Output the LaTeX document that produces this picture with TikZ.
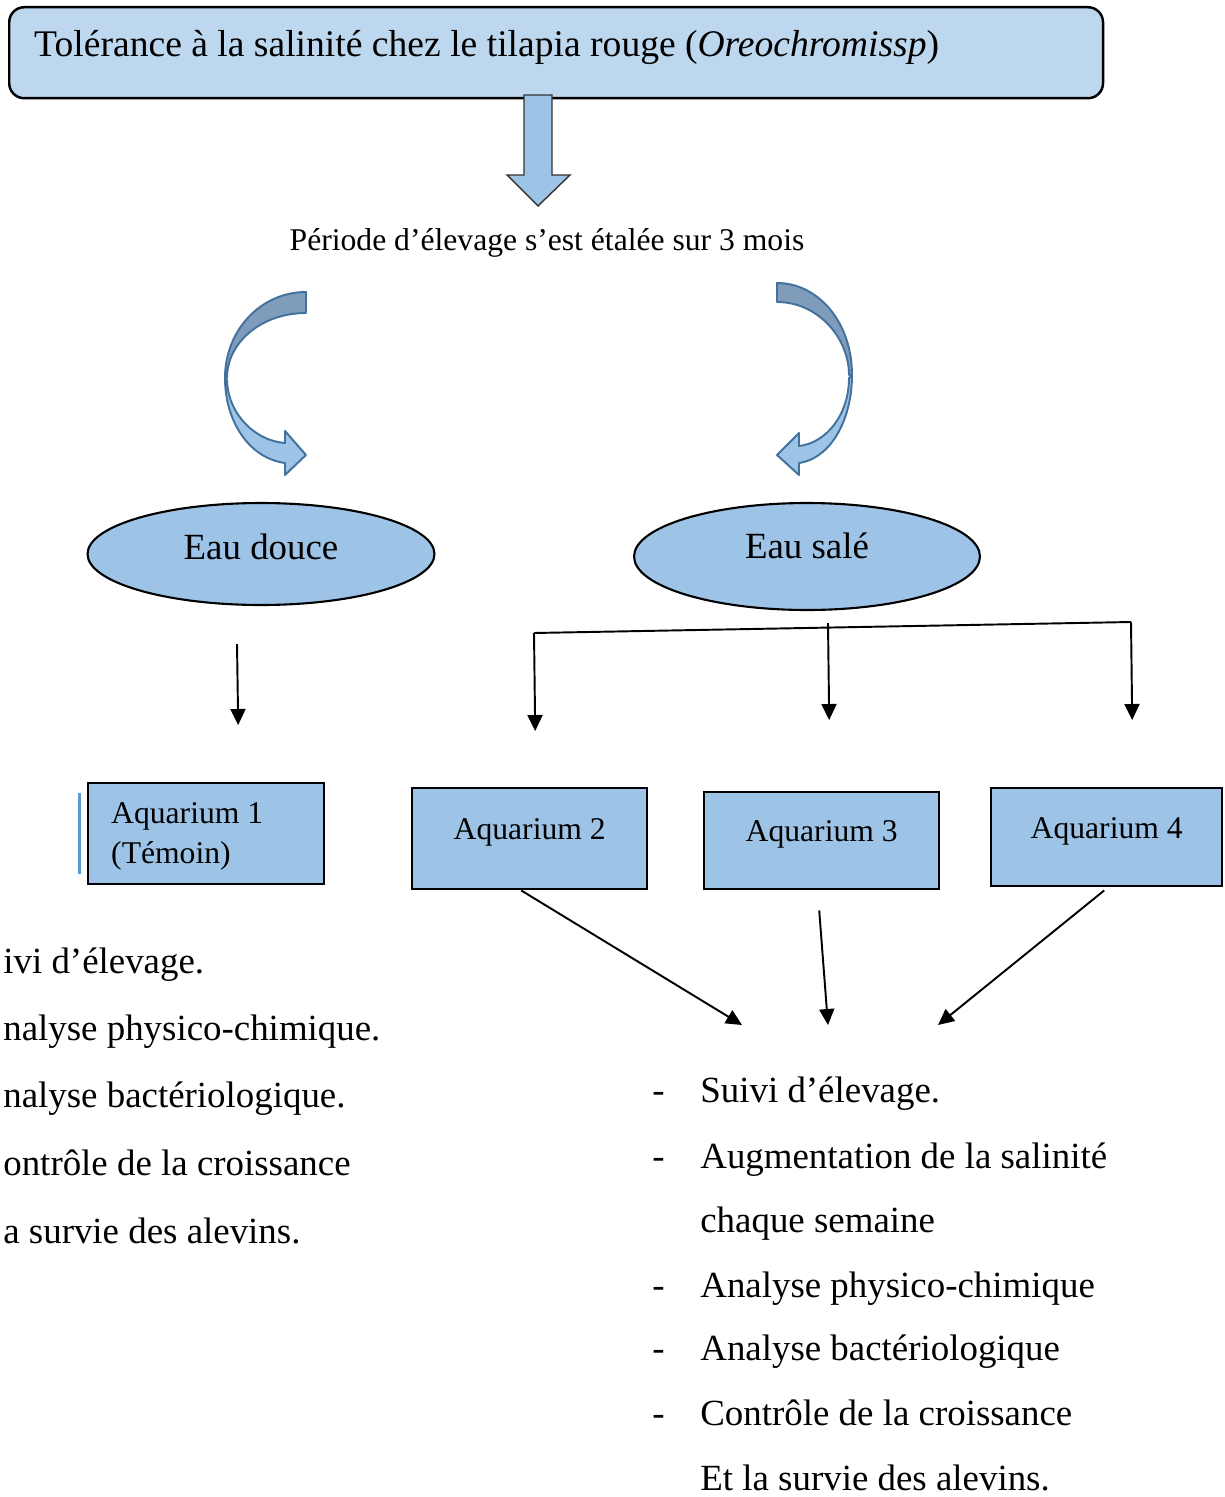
\documentclass[tikz,border=0pt]{standalone}
\usepackage{fontspec}
\setmainfont{Liberation Serif}
\usetikzlibrary{shapes.geometric,arrows.meta}
\definecolor{paleblue}{HTML}{BDD7EE}
\definecolor{midblue}{HTML}{9DC3E6}
\definecolor{slateblue}{HTML}{7F9DBA}
\definecolor{edgeblue}{HTML}{41719C}
\definecolor{barblue}{HTML}{5B9BD5}

\begin{document}
\begin{tikzpicture}[x=0.02cm, y=-0.02cm,
    big/.style={font=\fontsize{21}{25}\selectfont},
    mid/.style={font=\fontsize{18}{22.7}\selectfont},
    aqbox/.style={draw, line width=1.4pt, fill=midblue, inner sep=0pt, mid},
    oval/.style={ellipse, draw, line width=1.2pt, fill=midblue, inner sep=0pt, big},
    conn/.style={line width=1.1pt, -{Triangle[length=0.32cm,width=0.3cm]}},
    curved/.style={draw=edgeblue, line width=1.1pt, line join=round}]
    \useasboundingbox (0,0) rectangle (1224,1497);

    %title
    \node[draw, line width=1.4pt, fill=paleblue, rounded corners=0.3cm, anchor=north west,
        inner xsep=0.5cm, inner ysep=0pt, text height=0.98cm, text depth=0.84cm,
        font=\fontsize{21.4}{25}\selectfont] (title) at (8,6)
        {\makebox[20.88cm][l]{Tolérance à la salinité chez le tilapia rouge (\textit{Oreochromissp})}};
    \draw[fill=midblue, draw=black!80, line width=0.8pt] (524,95) -- (552,95) -- (552,175) -- (570,175)
        -- (538,206) -- (507,175) -- (524,175) -- cycle;
    \node[mid, anchor=base, inner sep=0pt] (periode) at (547,250) {Période d’élevage s’est étalée sur 3 mois};

    %curved arrows
    \draw[curved, fill=slateblue] (306,292) .. controls (261,292) and (225,330) .. (225,378)
        -- (227,378) .. controls (227,342) and (262,313) .. (306,313) -- cycle;
    \draw[curved, fill=midblue] (225,378) .. controls (225,420) and (248,458) .. (285,463)
        -- (285,475) -- (306,455) -- (285,431) -- (285,443)
        .. controls (256,441) and (228,415) .. (227,380) -- cycle;
    \draw[curved, fill=slateblue] (777,283) .. controls (818,283) and (852,322) .. (852,375)
        -- (849,375) .. controls (849,338) and (818,302) .. (777,302) -- cycle;
    \draw[curved, fill=midblue] (852,375) .. controls (852,418) and (832,458) .. (799,463)
        -- (799,475) -- (777,455) -- (799,433) -- (799,446)
        .. controls (826,443) and (849,415) .. (849,378) -- cycle;

    %water
    \node[oval, minimum width=6.94cm, minimum height=2.04cm, text height=0.4cm, text depth=0.2cm] (douce) at (261,554) {Eau douce};
    \node[oval, minimum width=6.92cm, minimum height=2.14cm, text height=0.34cm, text depth=0.26cm] (sale) at (807,556.5) {Eau salé};

    %aquaria
    \node[aqbox, anchor=north west, minimum width=4.72cm, text width=3.8cm, inner xsep=0.46cm, align=flush left,
        text height=0.8cm, text depth=1.22cm] (aq1) at (87,782) {Aquarium 1\\(Témoin)};
    \node[aqbox, anchor=north west, minimum width=4.7cm, text height=1.02cm, text depth=1.0cm] (aq2) at (411,787) {Aquarium 2};
    \node[aqbox, anchor=north west, minimum width=4.7cm, text height=0.98cm, text depth=0.96cm] (aq3) at (703,791) {Aquarium 3};
    \node[aqbox, anchor=north west, minimum width=4.62cm, text height=1.0cm, text depth=0.96cm] (aq4) at (990,787) {Aquarium 4};
    \draw[barblue, line width=0.07cm] ([xshift=-0.15cm, yshift=-0.22cm]aq1.north west) -- ([xshift=-0.15cm, yshift=0.22cm]aq1.south west);

    %connectors
    \draw[conn] ([xshift=-0.48cm, yshift=-0.76cm]douce.south) -- ([xshift=0.64cm, yshift=1.14cm]aq1.north);
    \coordinate (s2) at (534,633);
    \coordinate (s4) at (1131,622);
    \draw[line width=1.1pt] (s2) -- (s4);
    \draw[conn] (s2) -- ([xshift=0.11cm, yshift=1.12cm]aq2.north);
    \draw[conn] ([xshift=0.42cm, yshift=-0.24cm]sale.south) -- ([xshift=0.15cm, yshift=1.42cm]aq3.north);
    \draw[conn] (s4) -- ([xshift=0.51cm, yshift=1.34cm]aq4.north);

    \coordinate (e2) at (742,1025);
    \coordinate (e3) at (828,1025);
    \coordinate (e4) at (938,1025);
    \draw[conn] ([xshift=-0.17cm]aq2.south) -- (e2);
    \draw[conn] ([xshift=-0.05cm, yshift=-0.4cm]aq3.south) -- (e3);
    \draw[conn] ([xshift=-0.05cm, yshift=-0.06cm]aq4.south) -- (e4);

    %lists
    \foreach \y/\t [count=\i] in {973/ivi d’élevage., 1040/nalyse physico-chimique., 1107/nalyse bactériologique.,
        1175/ontrôle de la croissance, 1243/a survie des alevins.}
        \node[big, anchor=base west, inner sep=0pt] (left\i) at (3,\y) {\t};
    \foreach \y/\t [count=\i] in {1102/Suivi d’élevage., 1168/Augmentation de la salinité, 1232/chaque semaine,
        1297/Analyse physico-chimique, 1360/Analyse bactériologique, 1425/Contrôle de la croissance,
        1490/Et la survie des alevins.}
        \node[big, anchor=base west, inner sep=0pt] (right\i) at (700,\y) {\t};
    \foreach \y [count=\i] in {1102,1168,1297,1360,1425}
        \node[big, anchor=base west, inner sep=0pt] (dash\i) at (652,\y) {-};
\end{tikzpicture}
\end{document}
